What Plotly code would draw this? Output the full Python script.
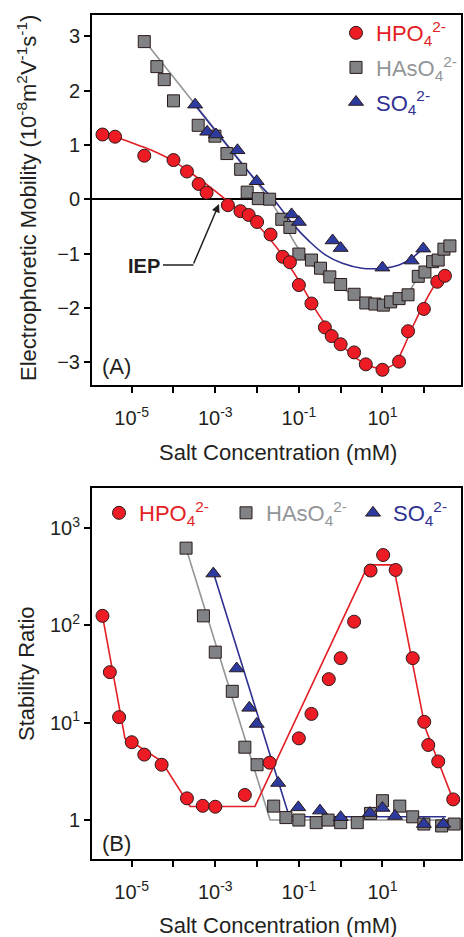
import plotly.graph_objects as go

# ---------------- data ----------------
# Panel A: electrophoretic mobility (1e-8 m2 V-1 s-1) vs salt concentration (mM)
hpo4_mob_c = [2e-6, 4e-6, 2e-5, 1e-4, 2.1e-4, 4e-4, 6.2e-4, 2e-3, 4e-3, 6.3e-3,
              1e-2, 2.1e-2, 4.1e-2, 6.1e-2, 0.1, 0.2, 0.42, 0.61, 1.0, 2.1,
              4.0, 10, 25, 41, 98, 205, 313]
hpo4_mob = [1.19, 1.15, 0.80, 0.72, 0.51, 0.28, 0.12, -0.11, -0.22, -0.29,
            -0.42, -0.65, -1.06, -1.16, -1.58, -1.92, -2.36, -2.52, -2.67, -2.82,
            -3.04, -3.14, -2.99, -2.43, -2.02, -1.52, -1.41]

haso4_mob_c = [2e-5, 4e-5, 6e-5, 1e-4, 3.9e-4, 9.8e-4, 1.9e-3, 4.05e-3, 5.8e-3, 1.07e-2,
               2.0e-2, 3.9e-2, 6.1e-2, 0.1, 0.2, 0.33, 0.55, 1.0, 2.1, 4.0,
               6.6, 10.5, 15.7, 25, 41, 72, 104, 159, 216, 296, 412]
haso4_mob = [2.90, 2.44, 2.20, 1.81, 1.36, 1.16, 0.84, 0.55, 0.13, 0.01,
             0.00, -0.37, -0.52, -1.01, -1.12, -1.27, -1.43, -1.57, -1.75, -1.91,
             -1.93, -1.95, -1.89, -1.83, -1.76, -1.42, -1.34, -1.15, -1.12, -0.92, -0.86]

so4_mob_c = [3.3e-4, 6.4e-4, 1.04e-3, 3.4e-3, 9.8e-3, 6.7e-2, 0.1, 0.64, 1.0, 10, 50, 95]
so4_mob = [1.74, 1.24, 1.19, 0.90, 0.33, -0.28, -0.42, -0.76, -0.90, -1.26, -1.13, -0.91]

# fitted curves, panel A
hpo4_fit_c = [5e-6, 1e-5, 3e-5, 1e-4, 3e-4, 1e-3, 2e-3, 3e-3, 1e-2, 3e-2,
              0.1, 0.3, 1, 3, 10, 20, 30, 55, 100, 180, 300]
hpo4_fit = [1.12, 1.04, 0.90, 0.70, 0.45, 0.15, -0.04, -0.15, -0.47, -0.90,
            -1.50, -2.13, -2.66, -2.98, -3.12, -3.02, -2.78, -2.32, -1.92, -1.58, -1.40]
haso4_fit_c = [2e-5, 1e-3, 1e-2, 3e-2, 0.1, 0.3, 1, 3, 10, 25, 40, 70, 130, 250, 400]
haso4_fit = [2.92, 1.28, 0.30, -0.22, -0.92, -1.33, -1.62, -1.83, -1.94, -1.86,
             -1.73, -1.45, -1.20, -0.98, -0.86]
so4_fit_c = [2.8e-4, 1e-2, 2.8e-2, 7e-2, 0.18, 0.44, 1.1, 3.2, 10, 25, 50, 90]
so4_fit = [1.80, 0.32, -0.05, -0.45, -0.78, -1.03, -1.18, -1.27, -1.27, -1.21, -1.09, -0.91]

# Panel B: stability ratio vs salt concentration (mM)
hpo4_w_c = [2e-6, 3e-6, 5e-6, 1e-5, 2e-5, 5.2e-5, 2.1e-4, 5e-4, 1e-3, 5.1e-3,
            2e-2, 0.1, 0.2, 0.52, 1.0, 2.1, 5.2, 10.4, 20.7, 53,
            100, 125, 216, 494]
hpo4_w = [125, 33, 11.4, 6.3, 4.7, 3.7, 1.67, 1.40, 1.37, 1.81,
          3.88, 6.9, 12.3, 28, 46, 109, 365, 527, 370, 46,
          10.2, 5.9, 4.0, 1.63]

haso4_w_c = [2e-4, 5.2e-4, 1e-3, 2.55e-3, 5.1e-3, 1e-2, 2.5e-2, 4.9e-2, 0.1, 0.26,
             0.5, 1.0, 2.5, 5.2, 10, 26, 53, 98, 261, 522]
haso4_w = [620, 125, 53, 21, 5.6, 3.7, 1.39, 1.06, 1.0, 0.94,
           1.0, 0.94, 0.94, 1.17, 1.58, 1.39, 1.08, 0.91, 0.87, 0.91]

so4_w_c = [9e-4, 3.25e-3, 6.5e-3, 9.8e-3, 3.2e-2, 9.7e-2, 0.32, 1.0, 5.0, 10, 20, 98, 285]
so4_w = [340, 36, 14.2, 9.7, 2.4, 1.35, 1.25, 1.07, 1.18, 1.33, 1.1, 0.91, 0.91]

# piecewise guide lines, panel B
hpo4_wfit_c = [2e-6, 6.9e-6, 1.32e-5, 5.2e-5, 2.5e-4, 8.9e-3, 4.57, 18.2, 105, 490]
hpo4_wfit = [125, 6.9, 5.9, 4.0, 1.38, 1.38, 417, 417, 8.9, 1.62]
haso4_wfit_c = [2e-4, 2.05e-2, 520]
haso4_wfit = [620, 1.0, 1.0]
so4_wfit_c = [9e-4, 5.9e-2, 330]
so4_wfit = [348, 1.08, 1.08]

# tick labels
x_tickvals = [1e-5, 1e-4, 1e-3, 1e-2, 1e-1, 1e0, 1e1, 1e2]
x_ticktext = ["10<sup>-5</sup>", "", "10<sup>-3</sup>", "", "10<sup>-1</sup>", "", "10<sup>1</sup>", ""]
ya_tickvals = [-3, -2, -1, 0, 1, 2, 3]
yb_tickvals = [1, 10, 100, 1000]
yb_ticktext = ["1", "10<sup>1</sup>", "10<sup>2</sup>", "10<sup>3</sup>"]

# ---------------- style ----------------
RED, RED_L = "#ed1c24", "#e31e24"
GRAY, GRAY_L, GRAY_T = "#808285", "#939598", "#939598"
BLUE, BLUE_L = "#2e3b9e", "#2e3192"
EDGE = "#2a1a1a"
FONT = "Liberation Sans, Arial, sans-serif"
W, H = 464, 937

def px_x(p):
    return p / W

def px_y(p):
    return 1 - p / H

names = {
    "hpo4": f'<span style="color:{RED_L}">HPO<sub>4</sub><sup>2-</sup></span>',
    "haso4": f'<span style="color:{GRAY_T}">HAsO<sub>4</sub><sup>2-</sup></span>',
    "so4": f'<span style="color:{BLUE_L}">SO<sub>4</sub><sup>2-</sup></span>',
}

fig = go.Figure()

# Panel A lines
fig.add_trace(go.Scatter(x=haso4_fit_c, y=haso4_fit, mode="lines", line=dict(color=GRAY_L, width=1.6, shape="spline"),
                         showlegend=False, xaxis="x", yaxis="y"))
fig.add_trace(go.Scatter(x=so4_fit_c, y=so4_fit, mode="lines", line=dict(color=BLUE_L, width=1.6, shape="spline"),
                         showlegend=False, xaxis="x", yaxis="y"))
fig.add_trace(go.Scatter(x=hpo4_fit_c, y=hpo4_fit, mode="lines", line=dict(color=RED_L, width=1.6, shape="spline"),
                         showlegend=False, xaxis="x", yaxis="y"))
# Panel A markers
fig.add_trace(go.Scatter(x=haso4_mob_c, y=haso4_mob, mode="markers", name=names["haso4"], legend="legend",
                         legendrank=2, legendgroup="a2",
                         marker=dict(symbol="square", size=12, color=GRAY, line=dict(color=EDGE, width=1)),
                         xaxis="x", yaxis="y"))
fig.add_trace(go.Scatter(x=so4_mob_c, y=so4_mob, mode="markers", name=names["so4"], legend="legend",
                         legendrank=3, legendgroup="a3",
                         marker=dict(symbol="triangle-up", size=13, color=BLUE, line=dict(color=EDGE, width=1)),
                         xaxis="x", yaxis="y"))
fig.add_trace(go.Scatter(x=hpo4_mob_c, y=hpo4_mob, mode="markers", name=names["hpo4"], legend="legend",
                         legendrank=1, legendgroup="a1",
                         marker=dict(symbol="circle", size=13, color=RED, line=dict(color=EDGE, width=1)),
                         xaxis="x", yaxis="y"))

# Panel B lines
fig.add_trace(go.Scatter(x=haso4_wfit_c, y=haso4_wfit, mode="lines", line=dict(color=GRAY_L, width=1.6),
                         showlegend=False, xaxis="x2", yaxis="y2"))
fig.add_trace(go.Scatter(x=so4_wfit_c, y=so4_wfit, mode="lines", line=dict(color=BLUE_L, width=1.6),
                         showlegend=False, xaxis="x2", yaxis="y2"))
fig.add_trace(go.Scatter(x=hpo4_wfit_c, y=hpo4_wfit, mode="lines", line=dict(color=RED_L, width=1.6),
                         showlegend=False, xaxis="x2", yaxis="y2"))
# Panel B markers
fig.add_trace(go.Scatter(x=haso4_w_c, y=haso4_w, mode="markers", name=names["haso4"], legend="legend2", legendrank=2,
                         marker=dict(symbol="square", size=12, color=GRAY, line=dict(color=EDGE, width=1)),
                         xaxis="x2", yaxis="y2"))
fig.add_trace(go.Scatter(x=so4_w_c, y=so4_w, mode="markers", name=names["so4"], legend="legend2", legendrank=3,
                         marker=dict(symbol="triangle-up", size=13, color=BLUE, line=dict(color=EDGE, width=1)),
                         xaxis="x2", yaxis="y2"))
fig.add_trace(go.Scatter(x=hpo4_w_c, y=hpo4_w, mode="markers", name=names["hpo4"], legend="legend2", legendrank=1,
                         marker=dict(symbol="circle", size=13, color=RED, line=dict(color=EDGE, width=1)),
                         xaxis="x2", yaxis="y2"))

axis_common = dict(showline=True, mirror=True, linecolor="black", linewidth=2, ticks="outside",
                   ticklen=6, tickwidth=1.8, tickcolor="black", showgrid=False,
                   tickfont=dict(family=FONT, size=20, color="#231f20"))

xdom = [px_x(92), px_x(461)]
fig.update_layout(
    width=W, height=H, autosize=False,
    margin=dict(l=0, r=0, t=0, b=0, pad=0, autoexpand=False),
    paper_bgcolor="white", plot_bgcolor="white",
    font=dict(family=FONT, size=20, color="#231f20"),
    xaxis=dict(domain=xdom, anchor="y", type="log", range=[-5.95, 2.88], ticklabelstandoff=8,
               tickvals=x_tickvals, ticktext=x_ticktext, zeroline=False, automargin=False, **axis_common),
    yaxis=dict(domain=[px_y(385), px_y(15)], anchor="x", range=[-3.42, 3.39], automargin=False,
               tickvals=ya_tickvals, zeroline=True, zerolinecolor="black", zerolinewidth=1.6, **axis_common),
    xaxis2=dict(domain=xdom, anchor="y2", type="log", range=[-5.95, 2.88], ticklabelstandoff=8,
                tickvals=x_tickvals, ticktext=x_ticktext, zeroline=False, automargin=False, **axis_common),
    yaxis2=dict(domain=[px_y(859), px_y(488)], anchor="x2", type="log", range=[-0.40, 3.41], automargin=False,
                tickvals=yb_tickvals, ticktext=yb_ticktext, zeroline=False, **axis_common),
    legend=dict(x=px_x(336), y=px_y(12), xanchor="left", yanchor="top", bgcolor="rgba(0,0,0,0)",
                font=dict(family=FONT, size=22), tracegroupgap=3, itemsizing="trace"),
    legend2=dict(orientation="h", x=px_x(99), y=px_y(492), xanchor="left", yanchor="top",
                 bgcolor="rgba(0,0,0,0)", font=dict(family=FONT, size=22), itemsizing="trace",
                 entrywidth=82, entrywidthmode="pixels"),
)

ann_font = dict(family=FONT, size=22, color="#231f20")
annotations = [
    dict(text="Electrophoretic Mobility (10<sup>-8</sup>m<sup>2</sup>V<sup>-1</sup>s<sup>-1</sup>)",
         x=px_x(27), y=px_y(198), textangle=-90, font=ann_font),
    dict(text="Stability Ratio", x=px_x(26), y=px_y(674), textangle=-90, font=ann_font),
    dict(text="Salt Concentration (mM)", x=px_x(278), y=px_y(452), font=ann_font),
    dict(text="Salt Concentration (mM)", x=px_x(278), y=px_y(925), font=ann_font),
    dict(text="(A)", x=px_x(100), y=px_y(366), xanchor="left", font=ann_font),
    dict(text="(B)", x=px_x(100), y=px_y(843), xanchor="left", font=ann_font),
    dict(text="<b>IEP</b>", x=px_x(162), y=px_y(266), xanchor="right", font=dict(family=FONT, size=20, color="#231f20")),
]
for a in annotations:
    a.setdefault("xanchor", "center")
    a.setdefault("yanchor", "middle")
    a.update(xref="paper", yref="paper", showarrow=False)
annotations.append(dict(text="", x=px_x(219), y=px_y(204), xref="paper", yref="paper", showarrow=True,
                        ax=-26, ay=61, arrowhead=2, arrowsize=1.1, arrowwidth=1.5, arrowcolor="#231f20", standoff=0))
fig.update_layout(annotations=annotations)
fig.add_shape(type="line", xref="paper", yref="paper", x0=px_x(163), x1=px_x(193.5), y0=px_y(265), y1=px_y(265),
              line=dict(color="#231f20", width=1.5))

fig.write_html("out.html", config={"displayModeBar": False},
               post_script="document.body.style.margin='0px';document.body.style.overflow='hidden';")
